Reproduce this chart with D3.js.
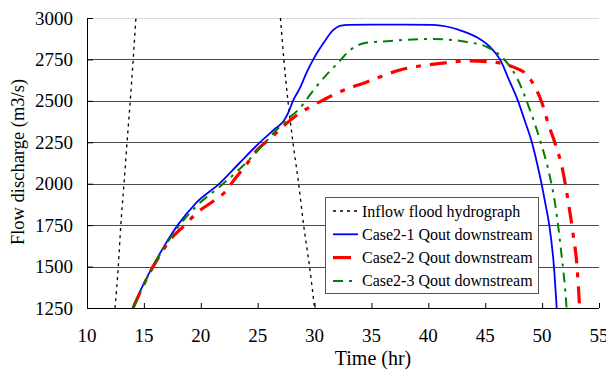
<!DOCTYPE html>
<html>
<head>
<meta charset="utf-8">
<script src="https://cdn.jsdelivr.net/npm/d3@7"></script>
<style>
  body { margin: 0; background: #fff; }
  svg text { font-family: "Liberation Serif", "Times New Roman", serif; fill: #000; }
</style>
</head>
<body>
<div id="main_div"></div>
<script>
var CHART_WIDTH = 606;
var CHART_HEIGHT = 369;

// Tick values
var X_TICKS = [10, 15, 20, 25, 30, 35, 40, 45, 50, 55];
var Y_TICKS = [1250, 1500, 1750, 2000, 2250, 2500, 2750, 3000];

// Inflow flood hydrograph (null splits the rising and falling limb, peak is off chart)
var inflowTime = [12.46, 12.75, 12.97, 13.25, 13.52, 13.8, 14.06, 14.3, null,
                  27.0, 27.3, 27.66, 28.1, 28.6, 29.04, 29.56, 30.0];
var inflowQ    = [1250, 1500, 1750, 2000, 2250, 2500, 2750, 3000, null,
                  3000, 2750, 2500, 2250, 2000, 1750, 1500, 1250];

// Case2-1 Qout downstream
var case21Time = [14.04, 14.8, 15.77, 16.8, 17.97, 19.6, 21.63, 23.4, 25.2, 26.5, 27.3, 27.7,
                  28.1, 28.72, 29.3, 29.89, 30.8, 31.65, 32.24, 33, 35, 38, 40.4, 42.7, 44.2,
                  45.42, 46.3, 47.1, 47.88, 48.5, 49.1, 49.55, 49.95, 50.3, 50.63, 51.04, 51.28];
var case21Q    = [1250, 1370, 1500, 1625, 1750, 1885, 2000, 2125, 2250, 2330, 2380, 2430,
                  2500, 2578, 2670, 2750, 2850, 2928, 2952, 2958, 2960, 2960, 2958, 2928, 2886,
                  2825, 2750, 2625, 2500, 2375, 2250, 2125, 2000, 1875, 1750, 1500, 1250];

// Case2-2 Qout downstream
var case22Time = [14.04, 15.77, 16.56, 17.29, 18.61, 19.64, 21, 22.13, 22.92, 24.0, 24.94, 26.26,
                  27.3, 28.46, 29.6, 31.1, 31.97, 34.6, 37.5, 41.29, 43.66, 45.68, 47.44, 48.67,
                  49.37, 49.99, 50.52, 51.13, 51.84, 52.27, 52.71, 53.07, 53.3];
var case22Q    = [1250, 1495, 1585, 1660, 1751, 1823, 1890, 1950, 2022, 2115, 2203, 2282,
                  2350, 2415, 2463, 2517, 2547, 2614, 2686, 2728, 2741, 2734, 2705, 2656,
                  2584, 2487, 2366, 2246, 2071, 1902, 1703, 1498, 1250];

// Case2-3 Qout downstream
var case23Time = [14.04, 15.77, 17.97, 19.64, 21.84, 24.33, 26.2, 27.3, 28.72, 30.04, 31.36, 32.15,
                  32.85, 34.43, 36.37, 39.88, 41.64, 43.4, 45.16, 46.56, 47.79, 48.93, 49.81,
                  50.69, 51.13, 51.66, 52.1, 52.15];
var case23Q    = [1250, 1495, 1735, 1866, 1992, 2150, 2290, 2370, 2457, 2577, 2680, 2735,
                  2789, 2849, 2860, 2873, 2870, 2855, 2825, 2758, 2638, 2445, 2264,
                  2041, 1884, 1600, 1298, 1250];

var SERIES = [
  { name: "Inflow flood hydrograph", time: inflowTime, q: inflowQ,
    color: "#000", width: 1.3, dash: "3,4" },
  { name: "Case2-1 Qout downstream", time: case21Time, q: case21Q,
    color: "#0000ff", width: 1.8, dash: null },
  { name: "Case2-2 Qout downstream", time: case22Time, q: case22Q,
    color: "#ff0000", width: 3.2, dash: "17,9,5,9" },
  { name: "Case2-3 Qout downstream", time: case23Time, q: case23Q,
    color: "#008000", width: 2, dash: "10,6,3,6" }
];

var PLOT = { left: 87, right: 599, top: 18, bottom: 308 };

function drawChart() {
  var svg = d3.select("#main_div").append("svg")
              .attr("width", CHART_WIDTH)
              .attr("height", CHART_HEIGHT);

  var x = d3.scaleLinear().domain([10, 55]).range([PLOT.left, PLOT.right]);
  var y = d3.scaleLinear().domain([1250, 3000]).range([PLOT.bottom, PLOT.top]);

  // Gridlines
  svg.append("g").selectAll("line")
      .data(Y_TICKS.filter(function (d) { return d > 1250; })).enter()
    .append("line")
      .attr("x1", PLOT.left).attr("x2", PLOT.right)
      .attr("y1", function (d) { return Math.round(y(d)) + 0.5; })
      .attr("y2", function (d) { return Math.round(y(d)) + 0.5; })
      .style("stroke", function (d) { return d === 3000 ? "#d9d9d9" : "#4a4a4a"; })
      .style("stroke-width", 1.2);

  // Clip for the series
  svg.append("clipPath").attr("id", "plot_clip")
    .append("rect")
      .attr("x", PLOT.left).attr("y", PLOT.top - 1)
      .attr("width", PLOT.right - PLOT.left).attr("height", PLOT.bottom - PLOT.top + 2);

  var lines = svg.append("g").attr("clip-path", "url(#plot_clip)");

  SERIES.forEach(function (s) {
    var pts = s.time.map(function (t, i) { return [t, s.q[i]]; });
    var line = d3.line()
                 .defined(function (d) { return d[0] !== null; })
                 .x(function (d) { return x(d[0]); })
                 .y(function (d) { return y(d[1]); })
                 .curve(d3.curveMonotoneX);
    lines.append("path")
        .attr("d", line(pts))
        .style("fill", "none")
        .style("stroke", s.color)
        .style("stroke-width", s.width)
        .style("stroke-dasharray", s.dash)
        .style("stroke-linejoin", "round");
  });

  // Y axis, ticks inside
  var yAxis = svg.append("g").attr("transform", "translate(" + PLOT.left + ",0)")
                 .call(d3.axisRight(y).tickValues(Y_TICKS).tickSize(6).tickFormat(""));
  yAxis.select(".domain").attr("d", "M0.5," + PLOT.top + "V" + PLOT.bottom);
  yAxis.selectAll("line").attr("x1", 0.5);

  svg.append("g").selectAll("text")
      .data(Y_TICKS).enter()
    .append("text")
      .attr("x", 73)
      .attr("y", function (d) { return y(d) + 6.5; })
      .attr("text-anchor", "end")
      .style("font-size", "19px")
      .text(function (d) { return d; });

  // X axis, ticks pointing up
  var xAxis = svg.append("g").attr("transform", "translate(0," + PLOT.bottom + ")")
                 .call(d3.axisTop(x).tickValues(X_TICKS).tickSize(5).tickFormat(""));
  xAxis.select(".domain").attr("d", "M" + PLOT.left + ",0.5H" + PLOT.right);

  svg.append("g").selectAll("text")
      .data(X_TICKS).enter()
    .append("text")
      .attr("x", function (d) { return x(d); })
      .attr("y", 342)
      .attr("text-anchor", "middle")
      .style("font-size", "19px")
      .text(function (d) { return d; });

  // Axis titles
  svg.append("text")
      .attr("x", 373).attr("y", 365)
      .attr("text-anchor", "middle")
      .style("font-size", "20px")
      .text("Time (hr)");

  svg.append("text")
      .attr("transform", "translate(24,162) rotate(-90)")
      .attr("text-anchor", "middle")
      .style("font-size", "18.5px")
      .text("Flow discharge (m3/s)");

  // Legend
  var legend = svg.append("g").attr("transform", "translate(325,197)");
  legend.append("rect")
      .attr("x", 0.5).attr("y", 0.5)
      .attr("width", 213).attr("height", 96)
      .style("fill", "#fff")
      .style("stroke", "#555")
      .style("stroke-width", 1);

  var rows = legend.selectAll("g.row")
      .data(SERIES).enter()
    .append("g")
      .attr("class", "row")
      .attr("transform", function (d, i) { return "translate(0," + (14 + i * 23.3) + ")"; });

  rows.append("line")
      .attr("x1", 8).attr("x2", 33)
      .attr("y1", 0).attr("y2", 0)
      .style("stroke", function (d) { return d.color; })
      .style("stroke-width", function (d) { return d.width; })
      .style("stroke-dasharray", function (d, i) { return i === 2 ? "18,9" : d.dash; });

  rows.append("text")
      .attr("x", 37).attr("y", 5.5)
      .style("font-size", "16px")
      .text(function (d) { return d.name; });
}

drawChart();
</script>
</body>
</html>
